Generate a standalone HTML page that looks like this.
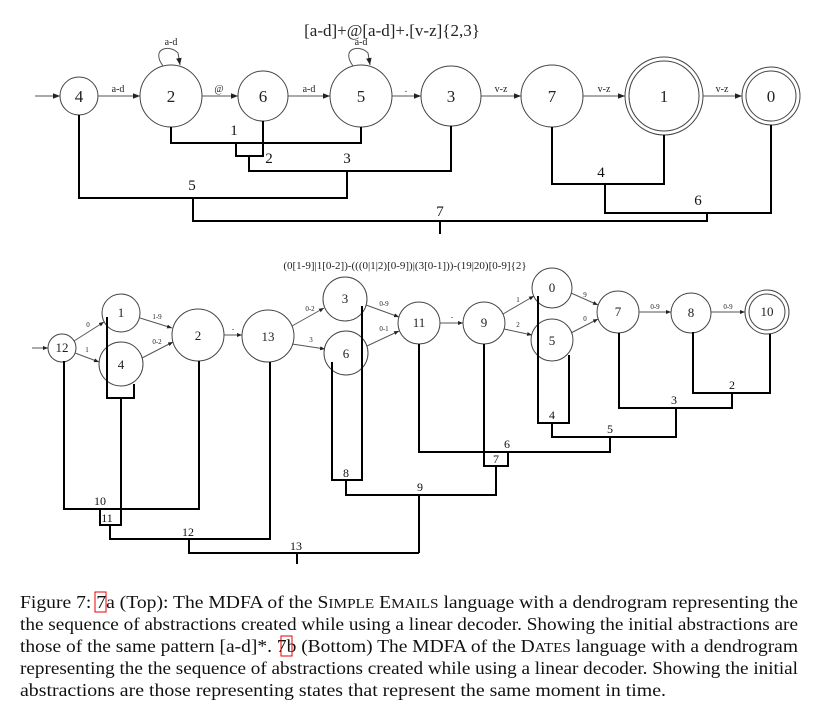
<!DOCTYPE html>
<html><head><meta charset="utf-8"><style>
html,body{margin:0;padding:0;background:#fff;}
svg{display:block;font-family:"Liberation Serif",serif;}
</style></head><body>
<svg width="817" height="710" viewBox="0 0 817 710" xmlns="http://www.w3.org/2000/svg">
<defs>
<marker id="a" viewBox="0 0 10 10" refX="10" refY="5" markerWidth="7" markerHeight="7" orient="auto"><path d="M0,1 L10,5 L0,9 z" fill="#222"/></marker>
<marker id="b" viewBox="0 0 10 10" refX="10" refY="5" markerWidth="5" markerHeight="5" orient="auto"><path d="M0,1 L10,5 L0,9 z" fill="#222"/></marker>
</defs>

<!-- TOP -->
<text x="392" y="36" font-size="17" text-anchor="middle" fill="#222">[a-d]+@[a-d]+.[v-z]{2,3}</text>
<g fill="none" stroke="#444" stroke-width="1">
<circle cx="79" cy="96" r="19"/>
<circle cx="171" cy="96" r="31"/>
<circle cx="263" cy="96" r="25"/>
<circle cx="361" cy="96" r="31"/>
<circle cx="451" cy="96" r="30"/>
<circle cx="552" cy="96" r="31"/>
<circle cx="664" cy="96" r="39"/><circle cx="664" cy="96" r="35"/>
<circle cx="771" cy="96" r="29"/><circle cx="771" cy="96" r="25"/>
<g stroke="#555" marker-end="url(#a)">
<line x1="35" y1="96" x2="60" y2="96"/>
<line x1="98" y1="96" x2="140" y2="96"/>
<line x1="202" y1="96" x2="238" y2="96"/>
<line x1="288" y1="96" x2="330" y2="96"/>
<line x1="392" y1="96" x2="421" y2="96"/>
<line x1="481" y1="96" x2="521" y2="96"/>
<line x1="583" y1="96" x2="625" y2="96"/>
<line x1="703" y1="96" x2="742" y2="96"/>
<path d="M163,66 C150,48 170,44 178,53 L180,65"/>
<path d="M353,66 C340,48 360,44 368,53 L370,65"/>
</g>
</g>
<g font-size="10" text-anchor="middle" fill="#222">
<text x="118" y="92">a-d</text><text x="219" y="92">@</text><text x="309" y="92">a-d</text>
<text x="406" y="92">.</text><text x="501" y="92">v-z</text><text x="604" y="92">v-z</text><text x="722" y="92">v-z</text>
<text x="171" y="45">a-d</text><text x="361" y="45">a-d</text>
</g>
<g font-size="17" text-anchor="middle" fill="#222">
<text x="79" y="102">4</text><text x="171" y="102">2</text><text x="263" y="102">6</text><text x="361" y="102">5</text>
<text x="451" y="102">3</text><text x="552" y="102">7</text><text x="664" y="102">1</text><text x="771" y="102">0</text>
</g>
<g fill="none" stroke="#000" stroke-width="2">
<polyline points="171,127 171,143 361,143 361,127"/>
<polyline points="236,143 236,156 263,156 263,121"/>
<polyline points="249,156 249,171 451,171 451,126"/>
<polyline points="347,171 347,198 79,198 79,115"/>
<polyline points="552,127 552,184 664,184 664,135"/>
<polyline points="605,184 605,213 771,213 771,125"/>
<polyline points="193,198 193,221 707,221 707,213"/>
<line x1="440" y1="221" x2="440" y2="234"/>
</g>
<g font-size="15" text-anchor="middle" fill="#111">
<text x="234" y="135">1</text><text x="269" y="163">2</text><text x="347" y="163">3</text>
<text x="192" y="190">5</text><text x="601" y="177">4</text><text x="698" y="205">6</text><text x="440" y="216">7</text>
</g>

<!-- BOTTOM -->
<text x="405" y="269" font-size="11" text-anchor="middle" fill="#222">(0[1-9]|1[0-2])-(((0|1|2)[0-9])|(3[0-1]))-(19|20)[0-9]{2}</text>
<g fill="none" stroke="#444" stroke-width="1">
<circle cx="62" cy="348" r="14"/>
<circle cx="121" cy="313" r="19"/>
<circle cx="121" cy="364" r="22"/>
<circle cx="198" cy="335" r="26"/>
<circle cx="268" cy="336" r="26"/>
<circle cx="345" cy="299" r="22"/>
<circle cx="346" cy="353" r="22"/>
<circle cx="419" cy="323" r="21"/>
<circle cx="484" cy="323" r="21"/>
<circle cx="552" cy="288" r="20"/>
<circle cx="552" cy="340" r="21"/>
<circle cx="618" cy="312" r="21"/>
<circle cx="691" cy="313" r="20"/>
<circle cx="767" cy="312" r="22"/><circle cx="767" cy="312" r="18"/>
<g stroke="#555" marker-end="url(#b)">
<line x1="32" y1="348" x2="48" y2="348"/>
<line x1="74" y1="341" x2="104" y2="322"/>
<line x1="75" y1="353" x2="99" y2="362"/>
<line x1="140" y1="318" x2="172" y2="328"/>
<line x1="142" y1="358" x2="173" y2="342"/>
<line x1="224" y1="335" x2="242" y2="335"/>
<line x1="292" y1="326" x2="324" y2="308"/>
<line x1="292" y1="344" x2="325" y2="349"/>
<line x1="366" y1="305" x2="399" y2="317"/>
<line x1="367" y1="346" x2="399" y2="331"/>
<line x1="440" y1="323" x2="463" y2="323"/>
<line x1="503" y1="314" x2="534" y2="296"/>
<line x1="504" y1="329" x2="532" y2="335"/>
<line x1="571" y1="293" x2="598" y2="305"/>
<line x1="571" y1="333" x2="598" y2="319"/>
<line x1="639" y1="312" x2="671" y2="312"/>
<line x1="711" y1="312" x2="745" y2="312"/>
</g>
</g>
<g font-size="7" text-anchor="middle" fill="#222">
<text x="88" y="327">0</text><text x="87" y="352">1</text><text x="157" y="319">1-9</text><text x="157" y="344">0-2</text>
<text x="233" y="331">-</text><text x="310" y="311">0-2</text><text x="311" y="342">3</text>
<text x="384" y="306">0-9</text><text x="384" y="331">0-1</text><text x="452" y="319">-</text>
<text x="518" y="302">1</text><text x="518" y="327">2</text><text x="585" y="297">9</text><text x="585" y="321">0</text>
<text x="655" y="309">0-9</text><text x="728" y="309">0-9</text>
</g>
<g font-size="13" text-anchor="middle" fill="#222">
<text x="62" y="352">12</text><text x="121" y="317">1</text><text x="121" y="369">4</text><text x="198" y="340">2</text>
<text x="268" y="341">13</text><text x="345" y="303">3</text><text x="346" y="358">6</text><text x="419" y="327">11</text>
<text x="484" y="327">9</text><text x="552" y="292">0</text><text x="552" y="345">5</text><text x="618" y="316">7</text>
<text x="691" y="317">8</text><text x="767" y="316">10</text>
</g>
<g fill="none" stroke="#000" stroke-width="2">
<polyline points="107,317 107,398 134,398 134,384"/>
<polyline points="64,361 64,509 199,509 199,361"/>
<polyline points="121,398 121,525 100,525 100,509"/>
<polyline points="110,525 110,539 270,539 270,362"/>
<polyline points="189,539 189,553 419,553"/>
<line x1="297" y1="553" x2="297" y2="564"/>
<polyline points="332,362 332,480 362,480 362,306"/>
<polyline points="693,332 693,393 770,393 770,334"/>
<polyline points="619,333 619,408 732,408 732,393"/>
<polyline points="538,296 538,423 569,423 569,355"/>
<polyline points="552,423 552,437 676,437 676,408"/>
<polyline points="419,344 419,452 610,452 610,437"/>
<polyline points="484,344 484,466 508,466 508,452"/>
<polyline points="346,480 346,495 496,495 496,466"/>
<line x1="419" y1="495" x2="419" y2="553"/>
</g>
<g font-size="12" text-anchor="middle" fill="#111">
<text x="732" y="389">2</text><text x="674" y="404">3</text><text x="552" y="419">4</text><text x="610" y="433">5</text>
<text x="507" y="448">6</text><text x="496" y="463">7</text><text x="346" y="477">8</text><text x="420" y="491">9</text>
<text x="100" y="505">10</text><text x="107" y="522">11</text><text x="188" y="536">12</text><text x="296" y="550">13</text>
</g>

<!-- CAPTION -->
<g font-size="18" fill="#111">
<text x="20" y="608" textLength="778" lengthAdjust="spacingAndGlyphs">Figure 7: 7a (Top): The MDFA of the S<tspan font-size="14">IMPLE</tspan> E<tspan font-size="14">MAILS</tspan> language with a dendrogram representing the</text>
<text x="20" y="630" textLength="778" lengthAdjust="spacingAndGlyphs">the sequence of abstractions created while using a linear decoder. Showing the initial abstractions are</text>
<text x="20" y="652" textLength="778" lengthAdjust="spacingAndGlyphs">those of the same pattern [a-d]*. 7b (Bottom) The MDFA of the D<tspan font-size="14">ATES</tspan> language with a dendrogram</text>
<text x="20" y="674" textLength="778" lengthAdjust="spacingAndGlyphs">representing the the sequence of abstractions created while using a linear decoder. Showing the initial</text>
<text x="20" y="696" textLength="646" lengthAdjust="spacingAndGlyphs">abstractions are those representing states that represent the same moment in time.</text>
</g>
<rect x="95" y="592" width="11" height="20" fill="none" stroke="#e00" stroke-width="1"/>
<rect x="281" y="636" width="11" height="20" fill="none" stroke="#e00" stroke-width="1"/>
</svg>
</body></html>
